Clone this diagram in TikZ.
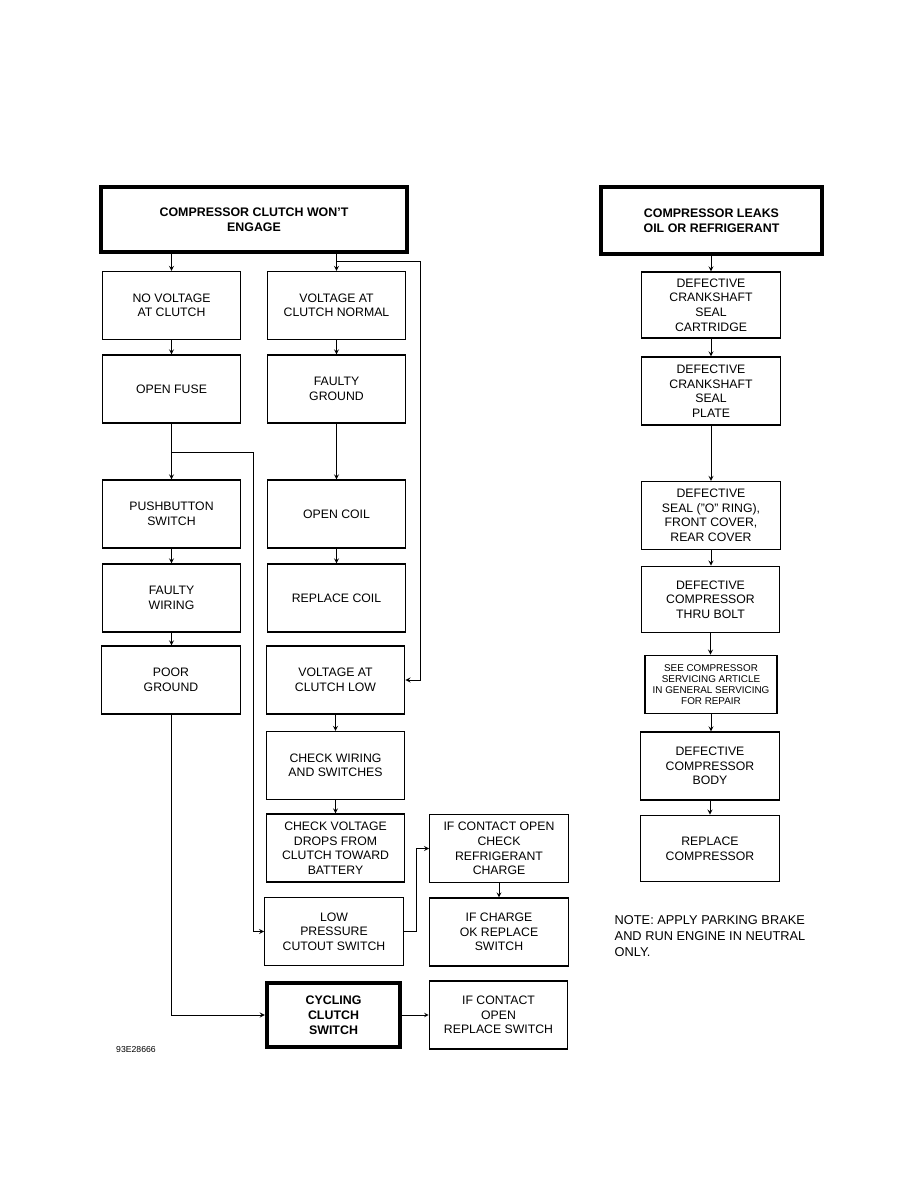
\documentclass[tikz,border=0pt]{standalone}
\usepackage{fontspec}
\setmainfont{Liberation Sans}
\usetikzlibrary{calc}
\newcommand{\boxfont}{\fontsize{9.2}{10.9}\selectfont}
\newcommand{\headfont}{\fontsize{9.3}{11.25}\selectfont\bfseries}
\newcommand{\seefont}{\fontsize{7.4}{8.2}\selectfont}
\begin{document}
\begin{tikzpicture}[x=0.75pt, y=-0.75pt,
    box/.style={draw, line width=0.8pt, minimum width=104pt, minimum height=51pt, inner sep=1pt, align=center, font=\boxfont},
    headbox/.style={box, line width=3pt, font=\headfont},
    arr/.style={-stealth, line width=0.7pt}]
    \useasboundingbox (0,0) rectangle (918,1188);
    % clutch chart, left column
    \node[headbox, minimum width=229.5pt, minimum height=48.75pt] (clutch) at (254,219.5) {COMPRESSOR CLUTCH WON'T\\ENGAGE};
    \node[box] (novolt) at (171.5,305.5) {NO VOLTAGE\\AT CLUTCH};
    \node[box] (fuse) at (171.5,389) {OPEN FUSE};
    \node[box] (push) at (171.5,514) {PUSHBUTTON\\SWITCH};
    \node[box] (wiring) at (171.5,598) {FAULTY\\WIRING};
    \node[box] (poor) at (171,680) {POOR\\GROUND};
    % clutch chart, right column
    \node[box] (normal) at (336.5,305.5) {VOLTAGE AT\\CLUTCH NORMAL};
    \node[box] (fground) at (336.5,389) {FAULTY\\GROUND};
    \node[box] (ocoil) at (336.5,514) {OPEN COIL};
    \node[box] (rcoil) at (336.5,598) {REPLACE COIL};
    \node[box] (vlow) at (335.5,680) {VOLTAGE AT\\CLUTCH LOW};
    \node[box] (chkwire) at (335.5,765.5) {CHECK WIRING\\AND SWITCHES};
    \node[box] (chkdrop) at (335.5,848) {CHECK VOLTAGE\\DROPS FROM\\CLUTCH TOWARD\\BATTERY};
    \node[box] (lowpres) at (334,931.5) {LOW\\PRESSURE\\CUTOUT SWITCH};
    \node[headbox, minimum width=100pt, minimum height=48pt] (cycling) at (333.5,1015) {CYCLING\\CLUTCH\\SWITCH};
    \node[box] (ifopen) at (499,848.5) {IF CONTACT OPEN\\CHECK\\REFRIGERANT\\CHARGE};
    \node[box] (ifcharge) at (499,932) {IF CHARGE\\OK REPLACE\\SWITCH};
    \node[box] (ifrepl) at (498.5,1015) {IF CONTACT\\OPEN\\REPLACE SWITCH};
    \node[font=\fontsize{6.5}{8}\selectfont] (figno) at (136,1050) {93E28666};
    % leak chart
    \node[headbox, minimum width=166pt, minimum height=50pt] (leaks) at (711.5,220.5) {COMPRESSOR LEAKS\\OIL OR REFRIGERANT};
    \node[box, minimum height=49.5pt] (cartr) at (711,305) {DEFECTIVE\\CRANKSHAFT\\SEAL\\CARTRIDGE};
    \node[box] (plate) at (711,391) {DEFECTIVE\\CRANKSHAFT\\SEAL\\PLATE};
    \node[box] (oring) at (711,515.5) {DEFECTIVE\\SEAL ("O" RING),\\FRONT COVER,\\REAR COVER};
    \node[box, minimum height=50pt] (bolt) at (710.5,599.5) {DEFECTIVE\\COMPRESSOR\\THRU BOLT};
    \node[box, minimum width=99pt, minimum height=44pt, font=\seefont] (see) at (711,684.5) {SEE COMPRESSOR\\SERVICING ARTICLE\\IN GENERAL SERVICING\\FOR REPAIR};
    \node[box] (body) at (710,766) {DEFECTIVE\\COMPRESSOR\\BODY};
    \node[box, minimum height=50pt] (replc) at (710,848.5) {REPLACE\\COMPRESSOR};
    \node[anchor=west, align=left, font=\fontsize{9.6}{12}\selectfont] (note) at (610,936) {NOTE: APPLY PARKING BRAKE\\AND RUN ENGINE IN NEUTRAL\\ONLY.};
    % connectors
    \draw[arr] (clutch.south -| novolt.north) -- (novolt.north);
    \draw[arr] (clutch.south -| normal.north) -- (normal.north);
    \coordinate (jr) at ($(clutch.south -| normal.north)!0.45!(normal.north)$);
    \coordinate (rr) at (420,0 |- jr);
    \draw[arr] (jr) -- (rr) |- (vlow.east);
    \draw[arr] (novolt) -- (fuse);
    \draw[arr] (fuse) -- (push);
    \coordinate (jl) at (fuse.south |- 0,452);
    \coordinate (ll) at (253,452);
    \draw[arr] (jl) -- (ll) |- (lowpres.west);
    \draw[arr] (push) -- (wiring);
    \draw[arr] (wiring.south) -- (wiring.south |- poor.north);
    \draw[arr] (poor.south) |- (cycling.west);
    \draw[arr] (normal) -- (fground);
    \draw[arr] (fground) -- (ocoil);
    \draw[arr] (ocoil) -- (rcoil);
    \draw[arr] (vlow) -- (chkwire);
    \draw[arr] (chkwire) -- (chkdrop);
    \coordinate (mid) at ($(lowpres.east)!0.5!(ifopen.west)$);
    \draw[arr] (lowpres.east) -| (mid) |- (ifopen.west);
    \draw[arr] (ifopen) -- (ifcharge);
    \draw[arr, line width=0.5pt] (cycling) -- (ifrepl);
    \draw[arr] (leaks.south -| cartr.north) -- (cartr.north);
    \draw[arr] (cartr) -- (plate);
    \draw[arr] (plate) -- (oring);
    \draw[arr] (oring.south) -- (oring.south |- bolt.north);
    \draw[arr] (bolt.south) -- (bolt.south |- see.north);
    \draw[arr] (see.south) -- (see.south |- body.north);
    \draw[arr] (body) -- (replc);
\end{tikzpicture}
\end{document}
